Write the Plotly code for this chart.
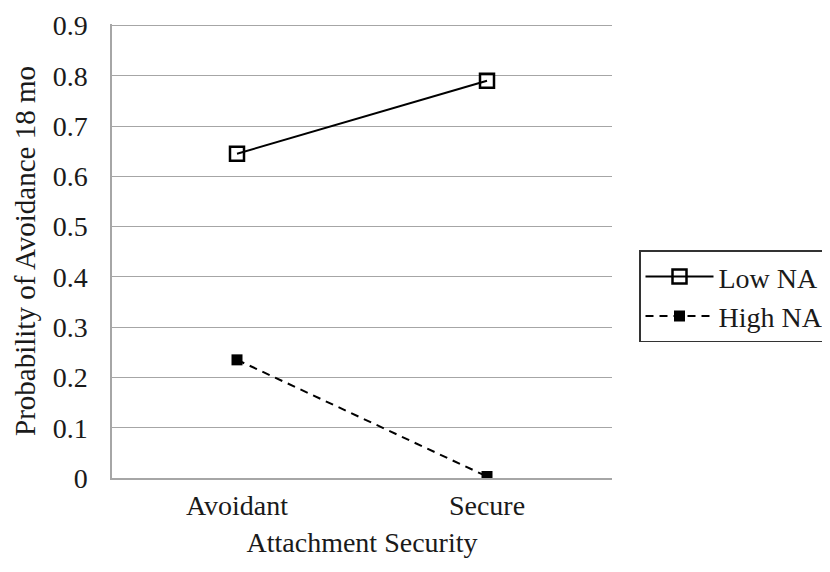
import plotly.graph_objects as go

categories = ["Avoidant", "Secure"]
low_na = [0.645, 0.79]
high_na = [0.235, 0.003]
y_ticks = [0, 0.1, 0.2, 0.3, 0.4, 0.5, 0.6, 0.7, 0.8, 0.9]

FONT = "Liberation Serif"
FS = 28
TXT = "#1a1a1a"
GRID = "#a6a6a6"

fig = go.Figure()
fig.add_trace(go.Scatter(
    x=categories, y=low_na, name="Low NA", mode="lines+markers",
    line=dict(color="black", width=2),
    marker=dict(symbol="square-open", size=14, color="black", line=dict(width=2.5)),
))
fig.add_trace(go.Scatter(
    x=categories, y=high_na, name="High NA", mode="lines+markers",
    line=dict(color="black", width=2, dash="8px,6px"),
    marker=dict(symbol="square", size=11, color="black"),
))

fig.update_layout(
    width=822, height=564,
    margin=dict(l=104, r=218, t=16, b=94, autoexpand=False),
    plot_bgcolor="white", paper_bgcolor="white",
    font=dict(family=FONT, size=FS, color=TXT),
    legend=dict(x=1.054, y=0.4, xanchor="left", yanchor="middle",
                bordercolor="#333", borderwidth=1.5,
                font=dict(family=FONT, size=FS, color=TXT),
                itemwidth=68, tracegroupgap=0),
    showlegend=True,
)
fig.update_xaxes(
    type="category", range=[-0.5, 1.5], automargin=False,
    showgrid=False, showline=True, linecolor=GRID, linewidth=1.5,
    ticks="", ticklabelstandoff=2,
    title=dict(text="Attachment Security", standoff=12, font=dict(family=FONT, size=FS)),
    tickfont=dict(family=FONT, size=FS),
)
fig.update_yaxes(
    range=[0, 0.903], tickvals=y_ticks, ticktext=[str(v) for v in y_ticks],
    automargin=False, ticklabeloverflow="allow",
    showgrid=True, gridcolor=GRID, gridwidth=1.2,
    showline=True, linecolor=GRID, linewidth=1.5,
    zeroline=False, ticks="", ticklabelstandoff=17,
    title=dict(text="Probability of Avoidance 18 mo", standoff=9, font=dict(family=FONT, size=29)),
    tickfont=dict(family=FONT, size=FS),
)

fig.write_html("out.html")
